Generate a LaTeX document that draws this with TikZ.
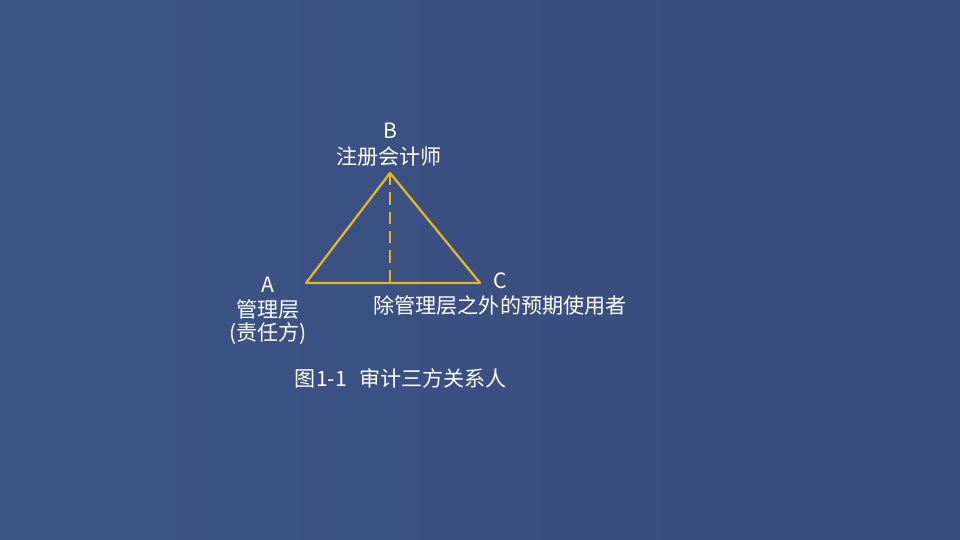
\documentclass[tikz,border=0pt]{standalone}
\usepackage{fontspec}
\setmainfont{Noto Sans CJK SC}
\usetikzlibrary{positioning}
\definecolor{bgblue}{RGB}{61,84,135}
\definecolor{bgdark}{RGB}{54,76,124}
\definecolor{gold}{RGB}{232,181,32}
\tikzstyle{label} = [text=white, font=\fontsize{12}{14}\selectfont, inner sep=0pt, align=center]
\tikzstyle{side} = [draw=gold, line width=1.3pt, line join=round]
\tikzstyle{height} = [draw=gold, line width=1.3pt, dash pattern=on 7pt off 4pt]

\begin{document}
\begin{tikzpicture}[x=0.02cm, y=-0.02cm]

% Background
\fill[left color=bgblue, right color=bgdark] (0,0) rectangle (960,540);
\useasboundingbox (0,0) rectangle (960,540);

% Vertices
\coordinate (vb) at (390,173);
\coordinate (va) at (306,283);
\coordinate (vc) at (480,283);
\coordinate (foot) at (390,283);

% Nodes
\node (letterb) at (390,131) [label] {B};
\node (cpa) at (389,157) [label] {注册会计师};
\node (lettera) at (268,285) [label] {A};
\node (mgmt) at (268,310) [label] {管理层};
\node (resp) at (268,334) [label] {(责任方)};
\node (letterc) at (500,281) [label] {C};
\node (users) at (500,306) [label] {除管理层之外的预期使用者};
\node (caption) at (401,378) [label] {图1-1\hspace{0.6em}审计三方关系人};

% Lines
\draw [side] (va) -- (vb) -- (vc) -- cycle;
\draw [height] (vb) -- (foot);

\end{tikzpicture}
\end{document}
